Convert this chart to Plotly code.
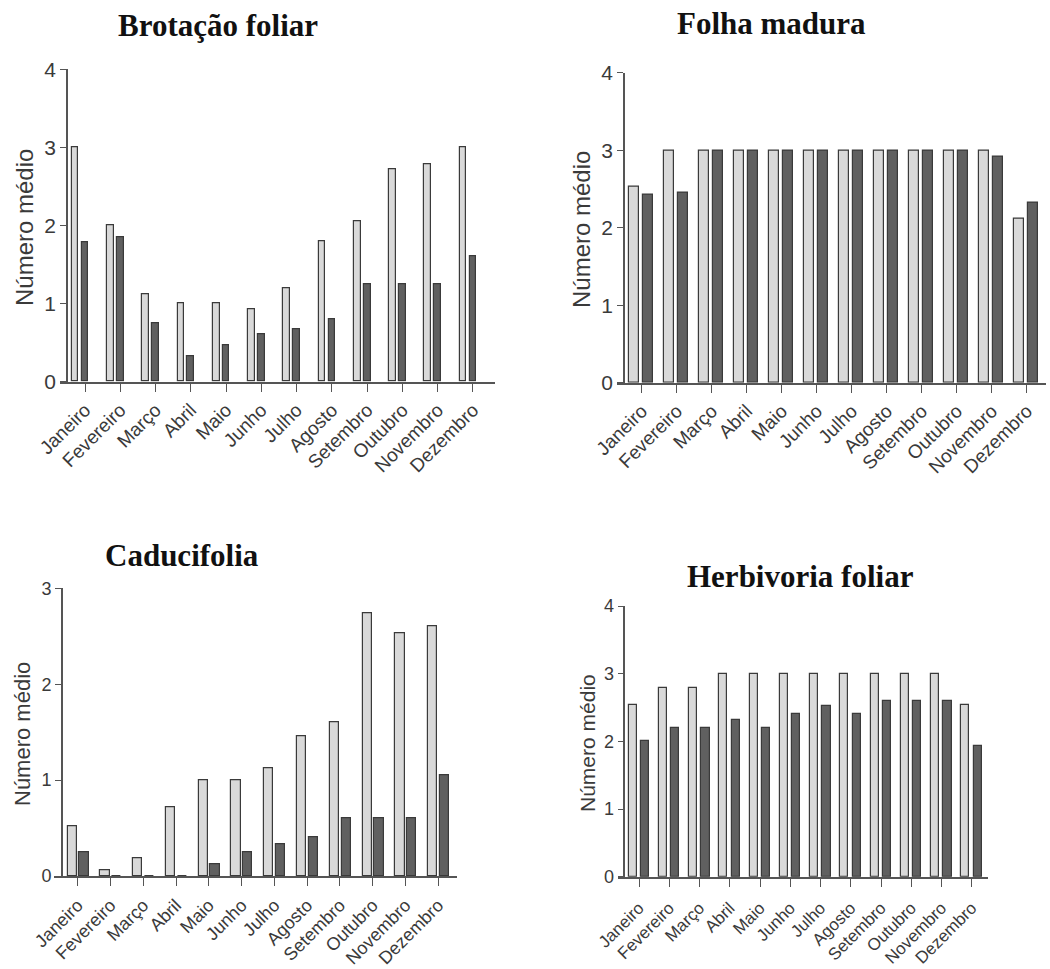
import plotly.graph_objects as go

# Month labels shared by all four panels
months = ["Janeiro", "Fevereiro", "Março", "Abril", "Maio", "Junho",
          "Julho", "Agosto", "Setembro", "Outubro", "Novembro", "Dezembro"]

# Brotação foliar
brot_light = [3.0, 2.0, 1.12, 1.0, 1.0, 0.93, 1.2, 1.8, 2.05, 2.72, 2.79, 3.0]
brot_dark = [1.79, 1.85, 0.75, 0.33, 0.47, 0.61, 0.67, 0.8, 1.25, 1.25, 1.25, 1.6]

# Folha madura
madura_light = [2.53, 3.0, 3.0, 3.0, 3.0, 3.0, 3.0, 3.0, 3.0, 3.0, 3.0, 2.12]
madura_dark = [2.42, 2.45, 3.0, 3.0, 3.0, 3.0, 3.0, 3.0, 3.0, 3.0, 2.92, 2.32]

# Caducifolia
cadu_light = [0.52, 0.06, 0.18, 0.72, 1.0, 1.0, 1.12, 1.46, 1.6, 2.74, 2.53, 2.6]
cadu_dark = [0.25, 0.0, 0.0, 0.0, 0.125, 0.25, 0.33, 0.4, 0.6, 0.6, 0.6, 1.05]

# Herbivoria foliar
herb_light = [2.53, 2.79, 2.79, 3.0, 3.0, 3.0, 3.0, 3.0, 3.0, 3.0, 3.0, 2.53]
herb_dark = [2.0, 2.19, 2.19, 2.32, 2.19, 2.4, 2.52, 2.4, 2.6, 2.6, 2.6, 1.93]

titles = ["Brotação foliar", "Folha madura", "Caducifolia", "Herbivoria foliar"]
y_title = "Número médio"

W, H = 1050, 969

# Per-panel geometry in pixels: y-axis position, x-axis line extent,
# first tick position and tick spacing, vertical extent of the value axis.
panels = [
    dict(light=brot_light, dark=brot_dark, title=titles[0],
         yaxis_px=67, xline=(60, 495), tick0=85, step=35.27,
         ydom=(69.3, 381.7), ymax=4,
         off=(-0.28, 0.0), bw=0.19, title_xy=(218, 25), yt_xy=(24, 228),
         tickfont=21, xfont=19, ytfont=24, xstand=0),
    dict(light=madura_light, dark=madura_dark, title=titles[1],
         yaxis_px=624, xline=(617, 1046), tick0=641.7, step=35.0,
         ydom=(72.7, 382.7), ymax=4,
         off=(-0.22, 0.18), bw=0.26, title_xy=(771, 23), yt_xy=(581, 230),
         tickfont=21, xfont=19, ytfont=24, xstand=0),
    dict(light=cadu_light, dark=cadu_dark, title=titles[2],
         yaxis_px=62, xline=(54, 457), tick0=77.7, step=32.78,
         ydom=(588.3, 876), ymax=3,
         off=(-0.17, 0.19), bw=0.28, title_xy=(182, 555), yt_xy=(22, 734),
         tickfont=18, xfont=18, ytfont=22, xstand=2),
    dict(light=herb_light, dark=herb_dark, title=titles[3],
         yaxis_px=624.3, xline=(618, 988), tick0=639, step=30.25,
         ydom=(606, 876.7), ymax=4,
         off=(-0.21, 0.2), bw=0.27, title_xy=(800, 576), yt_xy=(587, 743),
         tickfont=18, xfont=17, ytfont=21, xstand=5),
]

LIGHT_FILL = "#d9d9d9"
DARK_FILL = "#606060"
EDGE = "#3a3a3a"
AXIS = "#555555"
TEXT = "#3a3a3a"
SANS = "Arial, Liberation Sans"

fig = go.Figure()
layout = dict(
    width=W, height=H,
    margin=dict(l=0, r=0, t=0, b=0, autoexpand=False),
    paper_bgcolor="white", plot_bgcolor="white",
    showlegend=False, bargap=0,
)
annotations = []

for i, p in enumerate(panels, start=1):
    xa = "x" if i == 1 else f"x{i}"
    ya = "y" if i == 1 else f"y{i}"
    idx = list(range(len(months)))
    for vals, off, fill, name in [(p["light"], p["off"][0], LIGHT_FILL, "série 1"),
                                  (p["dark"], p["off"][1], DARK_FILL, "série 2")]:
        fig.add_trace(go.Bar(
            x=[k + off for k in idx], y=vals, width=p["bw"], name=name,
            marker=dict(color=fill, line=dict(color=EDGE, width=1.2)),
            xaxis=xa, yaxis=ya, hoverinfo="skip",
        ))
    x0, x1 = p["xline"]
    xr = [(x0 - p["tick0"]) / p["step"], (x1 - p["tick0"]) / p["step"]]
    xkey = "xaxis" if i == 1 else f"xaxis{i}"
    ykey = "yaxis" if i == 1 else f"yaxis{i}"
    layout[xkey] = dict(
        domain=[x0 / W, x1 / W], range=xr, automargin=False,
        anchor=ya, tickmode="array", tickvals=idx, ticktext=months,
        tickangle=-45, ticks="outside", ticklen=8, tickwidth=1.3,
        ticklabelstandoff=p["xstand"],
        tickcolor=AXIS, showline=True, linecolor=AXIS, linewidth=1.6,
        showgrid=False, zeroline=False,
        tickfont=dict(family=SANS, size=p["xfont"], color=TEXT),
    )
    layout[ykey] = dict(
        domain=[1 - p["ydom"][1] / H, 1 - p["ydom"][0] / H],
        range=[0, p["ymax"]], anchor="free", position=p["yaxis_px"] / W,
        automargin=False, dtick=1, tick0=0,
        ticks="outside", ticklen=6, tickwidth=1.3, tickcolor=AXIS,
        showline=True, linecolor=AXIS, linewidth=1.6,
        showgrid=False, zeroline=False,
        tickfont=dict(family=SANS, size=p["tickfont"], color=TEXT),
    )
    annotations.append(dict(
        text=f"<b>{p['title']}</b>", xref="paper", yref="paper",
        x=p["title_xy"][0] / W, y=1 - p["title_xy"][1] / H,
        xanchor="center", yanchor="middle", showarrow=False,
        font=dict(family="Liberation Serif, Times New Roman", size=31, color="#111111"),
    ))
    annotations.append(dict(
        text=y_title, xref="paper", yref="paper",
        x=p["yt_xy"][0] / W, y=1 - p["yt_xy"][1] / H,
        xanchor="center", yanchor="middle", textangle=-90, showarrow=False,
        font=dict(family=SANS, size=p["ytfont"], color=TEXT),
    ))

layout["annotations"] = annotations
fig.update_layout(**layout)
fig.write_html("out.html")
